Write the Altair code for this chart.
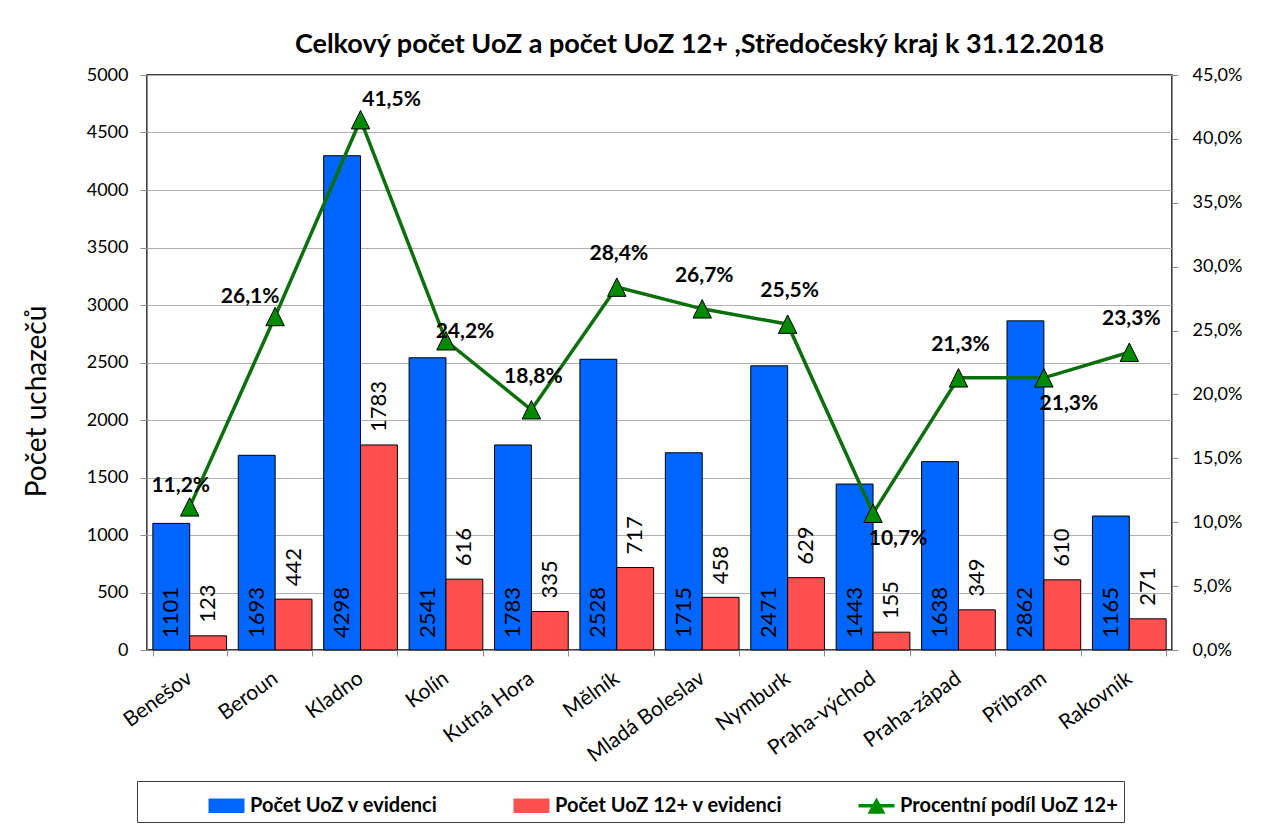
import altair as alt
import pandas as pd

categories = ["Benešov", "Beroun", "Kladno", "Kolín", "Kutná Hora", "Mělník",
              "Mladá Boleslav", "Nymburk", "Praha-východ", "Praha-západ", "Příbram", "Rakovník"]
total_uoz = [1101, 1693, 4298, 2541, 1783, 2528, 1715, 2471, 1443, 1638, 2862, 1165]
uoz_12 = [123, 442, 1783, 616, 335, 717, 458, 629, 155, 349, 610, 271]
pct_12 = [11.2, 26.1, 41.5, 24.2, 18.8, 28.4, 26.7, 25.5, 10.7, 21.3, 21.3, 23.3]
label_side = ["nnw", "nw", "ne", "e", "n", "n", "n", "n", "se", "n", "se", "n"]

S1 = "Počet UoZ v evidenci"
S2 = "Počet UoZ 12+ v evidenci"
S3 = "Procentní podíl UoZ 12+"
series = [S1, S2, S3]
colors = ["#0066FF", "#FF5050", "#008A00"]

bars_df = pd.DataFrame(
    [{"category": c, "series": S1, "value": v} for c, v in zip(categories, total_uoz)]
    + [{"category": c, "series": S2, "value": v} for c, v in zip(categories, uoz_12)]
)
line_df = pd.DataFrame({
    "category": categories,
    "pct": pct_12,
    "side": label_side,
    "label": [f"{v:.1f}".replace(".", ",") + "%" for v in pct_12],
})
legend_df = pd.DataFrame({"series": series})

FONT = "Lato"
LINE_GREEN = "#0B700B"

legend_shapes = [
    "M-1,-0.4H1V0.4H-1Z",
    "M-1,-0.4H1V0.4H-1Z",
    "M-1,-0.1H1V0.1H-1Z M-0.5,0.45L0,-0.45L0.5,0.45Z",
]
leg = alt.Legend(
    title=None, orient="none", legendX=-10, legendY=706, direction="horizontal",
    columns=3, columnPadding=10, labelFont=FONT, labelFontSize=20, labelFontWeight="bold",
    labelColor="black", labelLimit=400, labelOffset=5, symbolSize=1296,
    symbolStrokeColor="black", symbolStrokeWidth=1, symbolOpacity=1,
    strokeColor="#404040", padding=6, symbolOffset=65,
)
color_enc = alt.Color("series:N", scale=alt.Scale(domain=series, range=colors), legend=leg)

x_enc = alt.X(
    "category:N", sort=categories,
    scale=alt.Scale(paddingInner=0.137, paddingOuter=0.0685),
    axis=alt.Axis(title=None, labelAngle=-36, labelAlign="right", labelBaseline="middle",
                  labelFont=FONT, labelFontSize=21, labelColor="black", labelPadding=20,
                  tickBand="extent", tickSize=6, tickColor="#8c8c8c",
                  domainColor="#8c8c8c", grid=False),
)
xoff = alt.XOffset("series:N", sort=[S1, S2], scale=alt.Scale(paddingInner=0, paddingOuter=0))
left_axis = alt.Axis(values=list(range(0, 5001, 500)), format="d", labelFont=FONT,
                     labelFontSize=18, labelColor="black", labelPadding=12, tickSize=7,
                     tickColor="#8c8c8c", domainColor="#8c8c8c", grid=True,
                     gridColor="#b0b0b0", gridWidth=1,
                     title="Počet uchazečů", titleFont=FONT, titleFontSize=28,
                     titleFontWeight="normal", titleColor="black", titleAngle=270,
                     titleAlign="center", titleBaseline="alphabetic", titleX=-102, titleY=326)
left_scale = alt.Scale(domain=[0, 5000], nice=False)

bars = alt.Chart(bars_df).mark_bar(stroke="black", strokeWidth=1).encode(
    x=x_enc, xOffset=xoff,
    y=alt.Y("value:Q", scale=left_scale, axis=left_axis),
    color=color_enc,
)

blue_labels = alt.Chart(bars_df).transform_filter(alt.datum.series == S1).mark_text(
    angle=270, align="left", baseline="middle", dx=12, font=FONT, fontSize=22, color="black"
).encode(
    x=x_enc, xOffset=xoff,
    y=alt.datum(0),
    text=alt.Text("value:Q", format="d"),
)

red_labels = alt.Chart(bars_df).transform_filter(alt.datum.series == S2).mark_text(
    angle=270, align="left", baseline="middle", dx=13, font=FONT, fontSize=22, color="black"
).encode(
    x=x_enc, xOffset=xoff,
    y=alt.Y("value:Q"),
    text=alt.Text("value:Q", format="d"),
)

legend_layer = alt.Chart(legend_df).mark_point(
    filled=True, opacity=0, stroke="black", strokeWidth=1
).encode(
    color=color_enc,
    shape=alt.Shape("series:N", scale=alt.Scale(domain=series, range=legend_shapes), legend=leg),
)

left = alt.layer(bars, blue_labels, red_labels, legend_layer)

right_axis = alt.Axis(orient="right", values=list(range(0, 46, 5)),
                      labelExpr="replace(format(datum.value, '.1f'), '.', ',') + '%'",
                      labelFont=FONT, labelFontSize=18, labelColor="black", labelPadding=14,
                      tickSize=6, tickColor="#8c8c8c", domainColor="#8c8c8c", grid=False,
                      title=None)
y_right = alt.Y("pct:Q", scale=alt.Scale(domain=[0, 45], nice=False), axis=right_axis)

line = alt.Chart(line_df).mark_line(color=LINE_GREEN, strokeWidth=3.5).encode(
    x=x_enc, y=y_right,
)
points = alt.Chart(line_df).mark_point(
    shape="M0,-1L1,1L-1,1Z", size=340, filled=True, fill="#008A00", stroke="black",
    strokeWidth=1, opacity=1,
).encode(x=x_enc, y=y_right)

offsets = {"n": (2, -33), "nw": (-25, -20), "nnw": (-9, -21), "ne": (31, -20),
           "e": (19, -9), "se": (25, 26)}
pct_labels = []
for side, (dx, dy) in offsets.items():
    pct_labels.append(
        alt.Chart(line_df).transform_filter(alt.datum.side == side).mark_text(
            font=FONT, fontSize=21, fontWeight="bold", color="black", dx=dx, dy=dy,
            baseline="middle", align="center",
        ).encode(x=x_enc, y=y_right, text="label:N")
    )

right = alt.layer(line, points, *pct_labels)

chart = alt.layer(left, right).resolve_scale(y="independent").properties(
    width=1025, height=575, autosize="none",
    padding={"left": 139, "top": 67, "right": 80, "bottom": 178},
    title=alt.Title("Celkový počet UoZ a počet UoZ 12+ ,Středočeský kraj k 31.12.2018",
                    font=FONT, fontSize=27, fontWeight="bold", color="black",
                    anchor="middle", dx=40, offset=-14, baseline="alphabetic"),
).configure_view(stroke="black", strokeWidth=1.5)

chart.save("out.html", embed_options={"renderer": "svg", "actions": False})
